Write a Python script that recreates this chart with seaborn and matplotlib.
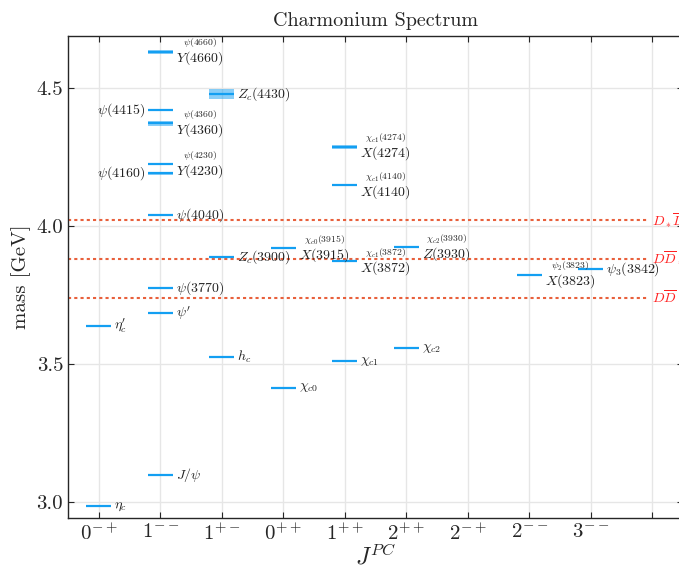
import matplotlib
matplotlib.use("Agg")
import matplotlib.pyplot as plt
import seaborn as sns
import pandas as pd

# J^PC columns
jpc_labels = [r"$0^{-+}$", r"$1^{--}$", r"$1^{+-}$", r"$0^{++}$", r"$1^{++}$",
              r"$2^{++}$", r"$2^{-+}$", r"$2^{--}$", r"$3^{--}$", ""]

# states: column index, mass [GeV], mass error [GeV], label, label side
state_col = [0, 0,
             1, 1, 1, 1, 1, 1, 1, 1, 1,
             2, 2, 2,
             3, 3,
             4, 4, 4, 4,
             5, 5,
             7, 8]
state_mass = [2.9839, 3.6375,
              3.0969, 3.6861, 3.7737, 4.039, 4.191, 4.2227, 4.372, 4.421, 4.630,
              3.5254, 3.8871, 4.478,
              3.4147, 3.9184,
              3.5107, 3.8716, 4.1465, 4.286,
              3.5562, 3.9222,
              3.8237, 3.8427]
state_err = [0.0, 0.0,
             0.0, 0.0, 0.0004, 0.001, 0.005, 0.0026, 0.009, 0.004, 0.006,
             0.0, 0.0026, 0.017,
             0.0, 0.0019,
             0.0, 0.0, 0.003, 0.0085,
             0.0, 0.001,
             0.0005, 0.0002]
state_label = [r"$\eta_c$", r"$\eta_c^{\prime}$",
               r"$J/\psi$", r"$\psi^{\prime}$", r"$\psi(3770)$", r"$\psi(4040)$",
               r"$\psi(4160)$", r"$\overset{\psi(4230)}{Y(4230)}$",
               r"$\overset{\psi(4360)}{Y(4360)}$", r"$\psi(4415)$",
               r"$\overset{\psi(4660)}{Y(4660)}$",
               r"$h_c$", r"$Z_c(3900)$", r"$Z_c(4430)$",
               r"$\chi_{c0}$", r"$\overset{\chi_{c0}(3915)}{X(3915)}$",
               r"$\chi_{c1}$", r"$\overset{\chi_{c1}(3872)}{X(3872)}$",
               r"$\overset{\chi_{c1}(4140)}{X(4140)}$",
               r"$\overset{\chi_{c1}(4274)}{X(4274)}$",
               r"$\chi_{c2}$", r"$\overset{\chi_{c2}(3930)}{Z(3930)}$",
               r"$\overset{\psi_2(3823)}{X(3823)}$", r"$\psi_3(3842)$"]
state_side = ["r", "r",
              "r", "r", "r", "r", "l", "r", "r", "l", "r",
              "r", "r", "r",
              "r", "r",
              "r", "r", "r", "r",
              "r", "r",
              "r", "r"]

# open-charm thresholds
thr_mass = [3.739, 3.880, 4.021]
thr_label = [r"$D\overline{D}$", r"$D\overline{D}_*$", r"$D_*\overline{D}_*$"]

df = pd.DataFrame({"col": state_col, "mass": state_mass, "err": state_err,
                   "label": state_label, "side": state_side})

sns.set_theme(style="ticks")
plt.rcParams["font.family"] = ["cmr10", "DejaVu Serif"]
plt.rcParams["mathtext.fontset"] = "cm"
plt.rcParams["axes.formatter.use_mathtext"] = True
plt.rcParams["axes.unicode_minus"] = False

blue = "#139ff2"
half = 0.2

fig = plt.figure(figsize=(6.79, 5.67), dpi=100)
ax = fig.add_axes([68 / 679, 49 / 567, 615 / 679, 482 / 567])

for _, s in df.iterrows():
    x0, x1 = s["col"] - half, s["col"] + half
    if s["err"] > 0:
        ax.fill_between([x0, x1], s["mass"] - s["err"], s["mass"] + s["err"],
                        color=blue, alpha=0.5, lw=0, zorder=3)
    ax.hlines(s["mass"], x0, x1, color=blue, lw=1.6, zorder=4)
    if s["side"] == "r":
        ax.text(s["col"] + 0.25, s["mass"], s["label"], ha="left", va="center",
                fontsize=10, color="#222222", zorder=5)
    else:
        ax.text(s["col"] - 0.25, s["mass"], s["label"], ha="right", va="center",
                fontsize=10, color="#222222", zorder=5)

for m, lab in zip(thr_mass, thr_label):
    ax.hlines(m, -0.5, 8.95, color="#e8603c", lw=1.5, ls=(0, (1.5, 1.5)), zorder=2)
    ax.text(9.0, m, lab, ha="left", va="center", fontsize=10, color="#ff2020")

ax.set_xlim(-0.5, 9.5)
ax.set_ylim(2.942, 4.688)
ax.set_xticks(range(len(jpc_labels)))
ax.set_xticklabels(jpc_labels, fontsize=15)
ax.set_yticks([3.0, 3.5, 4.0, 4.5])
ax.set_yticklabels(["3.0", "3.5", "4.0", "4.5"], fontsize=15)
ax.tick_params(direction="in", top=True, right=True, length=4, width=0.8)
ax.grid(True, color="#e6e6e6", lw=1)
ax.set_axisbelow(True)
for sp in ax.spines.values():
    sp.set_linewidth(1.0)

ax.set_xlabel(r"$J^{PC}$", fontsize=17, labelpad=0)
ax.set_ylabel("mass [GeV]", fontsize=15)
ax.set_title("Charmonium Spectrum", fontsize=14.5, pad=7)

fig.savefig("out.png", dpi=100)
